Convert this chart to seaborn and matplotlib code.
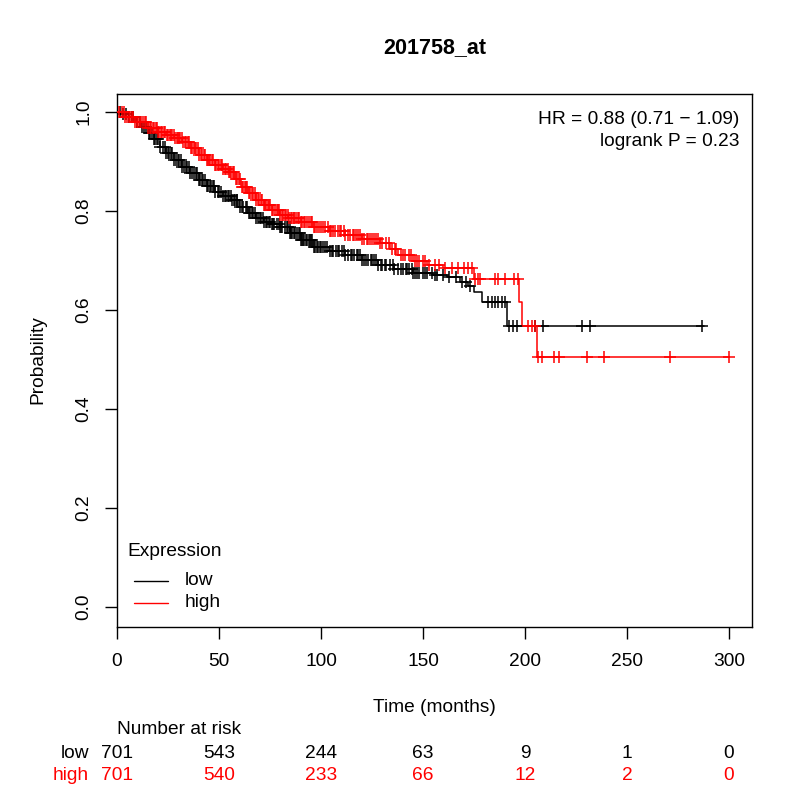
import numpy as np
import pandas as pd
import matplotlib
matplotlib.use("Agg")
import matplotlib.pyplot as plt
import matplotlib.transforms as mtransforms
import seaborn as sns

# Kaplan-Meier step knots (time in months, survival)
low_times = [0, 3, 6, 9, 12, 15, 18, 21, 24, 28, 32, 36, 40, 44, 48, 52, 56, 60,
             64, 68, 72, 76, 80, 85, 90, 96, 104, 112, 120, 128, 136, 145, 155,
             162, 168, 172, 175, 179, 191]
low_surv = [1.0, 0.995, 0.99, 0.98, 0.97, 0.957, 0.945, 0.93, 0.917, 0.903, 0.889,
            0.876, 0.863, 0.851, 0.839, 0.83, 0.822, 0.808, 0.795, 0.786, 0.778,
            0.773, 0.768, 0.755, 0.742, 0.728, 0.72, 0.711, 0.701, 0.691, 0.683,
            0.674, 0.67, 0.667, 0.657, 0.648, 0.637, 0.617, 0.568]
low_end = 288

high_times = [0, 4, 9, 15, 20, 24, 28, 32, 36, 40, 44, 48, 52, 55, 58, 61, 64, 68,
              72, 76, 80, 84, 90, 96, 104, 112, 120, 129, 134, 138, 145, 152, 160,
              175, 197, 198.5, 205.7]
high_surv = [1.0, 0.99, 0.98, 0.967, 0.96, 0.954, 0.947, 0.94, 0.927, 0.913, 0.903,
             0.893, 0.885, 0.879, 0.864, 0.849, 0.836, 0.822, 0.812, 0.802, 0.792,
             0.785, 0.777, 0.768, 0.76, 0.752, 0.744, 0.735, 0.723, 0.711, 0.698,
             0.69, 0.684, 0.662, 0.617, 0.568, 0.505]
high_end = 300

# censoring times (marked with +)
low_censor = [1.5, 3, 4.5, 6, 7.5, 8, 10, 11.5, 13, 14, 15.5, 17, 18, 19.5, 21, 22.5,
              24, 25, 26.5, 28, 29, 30.5, 32, 33, 34.5, 36, 37, 38.5, 40, 41.5, 43, 44,
              45.5, 47, 48, 49.5, 51, 52, 53.5, 55, 56.5, 58, 59, 60.5, 62, 63, 64.5,
              66, 67.5, 69, 70, 71.5, 73, 74.5, 76, 77, 78.5, 80, 81, 82.5, 84, 85, 86,
              87.5, 89, 90, 91, 92.5, 94, 95, 96.5, 98, 99.5, 101, 103, 104.5, 106,
              107.5, 109, 110.5, 112, 113, 114.5, 116, 117.5, 119, 121, 123, 124.5,
              126, 128, 130, 132, 134, 136, 138, 140, 141.5, 143, 144.5, 146, 148,
              150, 152, 154.5, 157, 160, 163, 166, 169, 171, 173, 182, 184, 185.5,
              187, 188.5, 190, 192, 194, 196, 205, 209, 228, 232, 287]
low_censor_more = [12.3, 16.2, 18.7, 20.2, 23.3, 25.7, 27.2, 29.7, 31.2, 33.6, 35.2,
                   37.7, 39.2, 40.7, 42.2, 44.8, 46.2, 47.6, 50.2, 52.8, 54.2, 55.8,
                   57.2, 58.6, 61.2, 63.7, 65.2, 66.8, 68.2, 70.7, 72.2, 73.7, 75.2,
                   76.6, 79.2, 80.5, 83.2, 84.6, 85.5, 86.7, 88.2, 89.5, 90.5, 91.7,
                   93.2, 94.5, 95.7, 97.2, 98.7, 100.2, 102.2, 105.2, 108.2, 111.2,
                   115.3, 118.2, 120.2, 122.2, 125.2, 127.2, 129.2, 131.2, 135.2, 139.2,
                   142.2, 145.2, 147.2, 151.2, 155.8]
high_censor = [1, 2.5, 4, 5, 6.5, 8, 9, 10.5, 12, 13.5, 15, 16, 17.5, 19, 20, 21.5,
               23, 24.5, 26, 27, 28.5, 30, 31, 32.5, 34, 35.5, 37, 38, 39.5, 41, 42.5,
               44, 45, 46.5, 48, 49.5, 51, 52, 53.5, 55, 56, 57.5, 59, 60.5, 62, 63,
               64.5, 66, 67.5, 69, 70.5, 72, 73, 74.5, 76, 77.5, 79, 80, 81.5, 83,
               84.5, 86, 87, 88.5, 90, 91.5, 93, 95, 96.5, 98, 100, 102, 103.5, 105,
               107, 108.5, 110, 112, 114, 115.5, 117, 119, 121, 122.5, 124, 126, 128,
               130, 132, 135, 137, 139, 141, 143, 146, 148, 150, 153, 156, 158, 161,
               164, 167, 170, 172, 174, 175.5, 177, 178, 185.5, 187, 190, 194.5,
               196.5, 201.5, 203.5, 205, 206.5, 208.5, 214, 216.5, 230.5, 238.5, 271,
               300]
high_censor_more = [3.2, 5.7, 7.2, 9.7, 11.2, 12.7, 14.2, 16.7, 18.2, 19.6, 20.8, 22.2,
                    23.7, 25.2, 26.6, 27.8, 29.2, 30.6, 31.8, 33.2, 34.7, 36.2, 37.6,
                    38.8, 40.2, 41.7, 43.2, 44.6, 45.8, 47.2, 48.7, 50.2, 51.6, 52.8,
                    54.2, 55.6, 56.8, 58.2, 59.7, 61.2, 62.6, 63.8, 65.2, 66.7, 68.2,
                    69.7, 71.2, 72.6, 73.8, 75.2, 76.7, 78.2, 79.6, 80.8, 82.2, 83.7,
                    85.2, 86.6, 87.8, 89.2, 90.7, 92.2, 94.1, 95.8, 97.2, 99.1, 101.1,
                    104.2, 106.1, 109.2, 111.1, 113.1, 116.2, 118.1, 120.1, 123.2,
                    125.1, 127.1, 129.1, 133.2, 136.1, 140.1, 144.2, 147.1, 151.2]

risk_times = [0, 50, 100, 150, 200, 250, 300]
risk_low = [701, 543, 244, 63, 9, 1, 0]
risk_high = [701, 540, 233, 66, 12, 2, 0]

groups = ["low", "high"]
colors = {"low": "black", "high": "red"}

sns.set_style("ticks")
plt.rcParams["font.family"] = ["Liberation Sans", "DejaVu Sans"]
plt.rcParams["text.color"] = "black"
plt.rcParams["axes.labelcolor"] = "black"
plt.rcParams["xtick.color"] = "black"
plt.rcParams["ytick.color"] = "black"

FS = 13.8
W = 800.0
fig = plt.figure(figsize=(8, 8), dpi=100)
ax = fig.add_axes([117 / W, 1 - 627 / W, (752 - 117) / W, (627 - 94) / W])


def curve_frame(times, surv, end, name):
    t = list(times) + [end]
    s = list(surv) + [surv[-1]]
    return pd.DataFrame({"time": t, "surv": s, "group": name})


def censor_frame(times, surv, cens, name):
    idx = np.searchsorted(np.array(times), np.array(cens), side="right") - 1
    return pd.DataFrame({"time": cens, "surv": np.array(surv)[idx], "group": name})


curves = pd.concat([curve_frame(low_times, low_surv, low_end, "low"),
                    curve_frame(high_times, high_surv, high_end, "high")])
marks = pd.concat([censor_frame(low_times, low_surv, low_censor + low_censor_more, "low"),
                   censor_frame(high_times, high_surv, high_censor + high_censor_more, "high")])

for g in groups:
    sub = curves[curves.group == g]
    sns.lineplot(data=sub, x="time", y="surv", color=colors[g], drawstyle="steps-post",
                 estimator=None, sort=False, linewidth=1.1, ax=ax, legend=False)
    msub = marks[marks.group == g]
    sns.scatterplot(data=msub, x="time", y="surv", marker="+", color=colors[g],
                    s=80, linewidth=1.1, ax=ax, legend=False, zorder=3)

ax.set_xlim(0, 311.3)
ax.set_ylim(-0.04, 1.036)
ax.set_xticks(risk_times)
ax.set_yticks([0.0, 0.2, 0.4, 0.6, 0.8, 1.0])
ax.set_yticklabels(["0.0", "0.2", "0.4", "0.6", "0.8", "1.0"], rotation=90, va="center")
ax.tick_params(direction="out", length=8.6, width=1.0, labelsize=FS, colors="black")
ax.tick_params(axis="x", pad=10)
ax.tick_params(axis="y", pad=9)
ax.set_xlabel("")
ax.set_ylabel("")
for sp in ax.spines.values():
    sp.set_visible(True)
    sp.set_linewidth(1.0)
    sp.set_color("black")

fig.text(434.5 / W, 1 - 48 / W, "201758_at", ha="center", va="center",
         fontsize=15.5, fontweight="bold")
fig.text(434.5 / W, 1 - 707 / W, "Time (months)", ha="center", va="center", fontsize=FS)
fig.text(38 / W, 1 - 360 / W, "Probability", ha="center", va="center", rotation=90,
         fontsize=FS)

fig.text(739 / W, 1 - 119 / W, "HR = 0.88 (0.71 \u2212 1.09)", ha="right", va="center",
         fontsize=FS)
fig.text(739 / W, 1 - 141 / W, "logrank P = 0.23", ha="right", va="center", fontsize=FS)

# legend drawn in R style: title, then short line + label per group
fig.text(127 / W, 1 - 551 / W, "Expression", ha="left", va="center", fontsize=FS)
for g, yy in zip(groups, [580.5, 602.5]):
    fig.add_artist(plt.Line2D([134 / W, 168 / W], [1 - yy / W, 1 - yy / W],
                              color=colors[g], lw=1.0))
    fig.text(185 / W, 1 - yy / W, g, ha="left", va="center", fontsize=FS)

# number at risk table
trans = mtransforms.blended_transform_factory(ax.transData, fig.transFigure)
fig.text(117 / W, 1 - 730 / W, "Number at risk", ha="left", va="center", fontsize=FS)
fig.text(89 / W, 1 - 753 / W, "low", ha="right", va="center", fontsize=FS, color="black")
fig.text(89 / W, 1 - 775 / W, "high", ha="right", va="center", fontsize=FS, color="red")
for t, a, b in zip(risk_times, risk_low, risk_high):
    ax.text(t, 1 - 753 / W, str(a), transform=trans, ha="center", va="center",
            fontsize=FS, color="black", clip_on=False)
    ax.text(t, 1 - 775 / W, str(b), transform=trans, ha="center", va="center",
            fontsize=FS, color="red", clip_on=False)

fig.savefig("out.png", dpi=100, facecolor="white")
